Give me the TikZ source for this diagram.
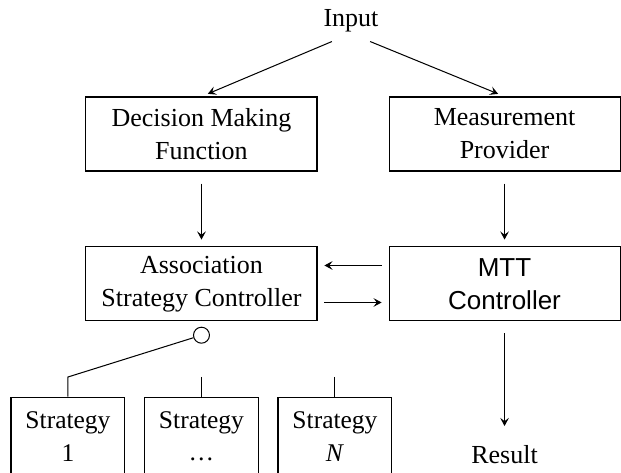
\documentclass[tikz,border=0pt]{standalone}
\usepackage{fontspec}
\setmainfont{Liberation Serif}
\newfontfamily\helv{Liberation Sans}
\usepackage{tikz}
\usetikzlibrary{arrows.meta}

\begin{document}
\begin{tikzpicture}[font = \fontsize{10.2}{12.9}\selectfont, >={Stealth[length = 3.2pt, width = 3.4pt, inset = 1.3pt]},
                    block/.style = {rectangle, draw, align = center, minimum width = 3.184cm, minimum height = 1.02cm},
                    strat/.style = {rectangle, draw, align = center, font = \fontsize{10}{12.9}\selectfont,
                                    minimum width = 1.571cm, minimum height = 1.08cm},
                    switch/.style = {circle, draw, fill = white, inner sep = 0pt, minimum size = 0.22cm}]
  \useasboundingbox (0,0) rectangle (8.559,-6.506);
  \node [anchor = base] (In) at (4.838,-0.372) {Input};
  \node [block] (DMF) at (2.777,-1.847) {Decision Making\\Function};
  \node [block] (MP) at (6.954,-1.847) {Measurement\\Provider};
  \node [block] (ASC) at (2.777,-3.914) {Association\\Strategy Controller};
  \node [block, font = \helv\fontsize{10.2}{12.9}\selectfont] (MTT) at (6.954,-3.914) {MTT\\Controller};
  \node [switch] (SW) at (2.777,-4.62) {};

  \coordinate (C1) at (0.937,-5.196);
  \coordinate (C2) at (2.777,-5.196);
  \coordinate (C3) at (4.617,-5.196);
  \node [strat] (S1) at (0.937,-6.012) {Strategy\\1};
  \node [strat] (S2) at (2.777,-6.012) {Strategy\\\ldots};
  \node [strat] (S3) at (4.617,-6.012) {Strategy\\\textit{N}};

  \node [anchor = base] (Res) at (6.954,-6.382) {Result};

  \draw [->, shorten >= 2.7pt] ([xshift = -7.5pt]In.south) -- (DMF.north);
  \draw [->, shorten >= 2.7pt] ([xshift = 7.5pt]In.south) -- (MP.north);
  \draw [->, shorten <= 4.7pt, shorten >= 2.7pt] (DMF) -- (ASC);
  \draw [->, shorten <= 4.7pt, shorten >= 2.7pt] (MP) -- (MTT);
  \draw [->, shorten <= 2.7pt, shorten >= 2.7pt] ([yshift = 0.255cm]MTT.west) -- ([yshift = 0.255cm]ASC.east);
  \draw [->, shorten <= 2.7pt, shorten >= 2.7pt] ([yshift = -0.255cm]ASC.east) -- ([yshift = -0.255cm]MTT.west);
  \draw [->, shorten <= 4.7pt, shorten >= 3.9pt] (MTT) -- (Res);
  \draw (SW) -- (C1) -- (S1);
  \draw (C2) -- (S2);
  \draw (C3) -- (S3);
\end{tikzpicture}
\end{document}
